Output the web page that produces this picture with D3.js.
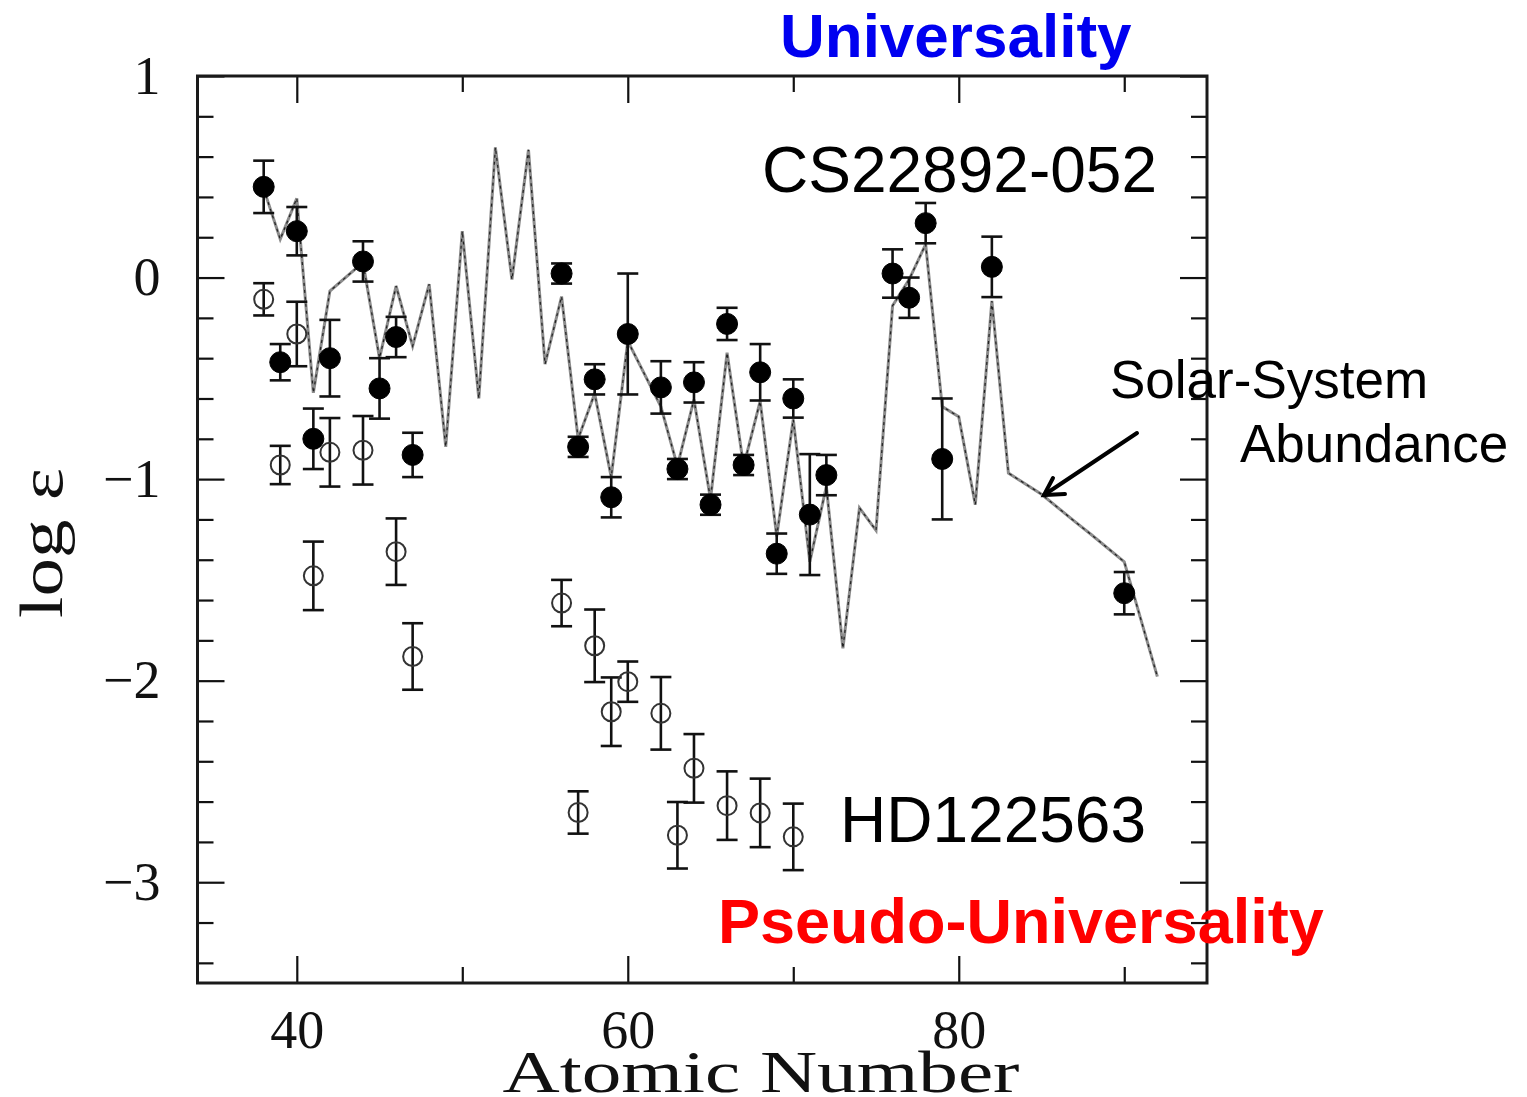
<!DOCTYPE html>
<html>
<head>
<meta charset="utf-8">
<script src="https://cdn.jsdelivr.net/npm/d3@7"></script>
<style>
  html, body { margin: 0; padding: 0; background: #ffffff; }
  svg { display: block; }
</style>
</head>
<body>
<svg id="chart" width="1527" height="1097"></svg>
<script>
// ---------- data ----------
// CS22892-052 (filled circles)
const csZ   = [38, 39, 40, 41, 42, 44, 45, 46, 47, 56, 57, 58, 59, 60, 62, 63, 64, 65, 66, 67, 68, 69, 70, 71, 72, 76, 77, 78, 79, 82, 90];
const csVal = [0.45, -0.42, 0.23, -0.80, -0.40, 0.08, -0.55, -0.295, -0.88, 0.02, -0.84, -0.505, -1.09, -0.28, -0.545, -0.95, -0.52, -1.127, -0.23, -0.93, -0.47, -1.37, -0.60, -1.176, -0.98, 0.02, -0.10, 0.27, -0.90, 0.053, -1.566];
const csErr = [0.13, 0.09, 0.12, 0.15, 0.19, 0.10, 0.15, 0.10, 0.11, 0.05, 0.05, 0.075, 0.10, 0.30, 0.13, 0.05, 0.10, 0.05, 0.08, 0.05, 0.14, 0.10, 0.095, 0.30, 0.10, 0.12, 0.10, 0.10, 0.30, 0.15, 0.105];

// HD122563 (open circles)
const hdZ   = [38, 39, 40, 41, 42, 44, 46, 47, 56, 57, 58, 59, 60, 62, 63, 64, 66, 68, 70];
const hdVal = [-0.108, -0.93, -0.28, -1.48, -0.867, -0.857, -1.36, -1.88, -1.615, -2.654, -1.827, -2.154, -2.005, -2.162, -2.767, -2.435, -2.62, -2.656, -2.775];
const hdErr = [0.08, 0.095, 0.16, 0.17, 0.17, 0.17, 0.165, 0.165, 0.115, 0.105, 0.18, 0.17, 0.10, 0.18, 0.165, 0.17, 0.17, 0.17, 0.165];

// Solar-system (scaled) abundance curve
const solarZ   = [38, 39, 40, 41, 42, 44, 45, 46, 47, 48, 49, 50, 51, 52, 53, 54, 55, 56, 57, 58, 59, 60, 62, 63, 64, 65, 66, 67, 68, 69, 70, 71, 72, 73, 74, 75, 76, 77, 78, 79, 80, 81, 82, 83, 85, 87, 88, 90, 92];
const solarVal = [0.44, 0.19, 0.393, -0.572, -0.067, 0.075, -0.40, -0.042, -0.34, -0.033, -0.84, 0.23, -0.60, 0.646, -0.01, 0.634, -0.43, -0.094, -0.80, -0.575, -0.99, -0.315, -0.64, -0.936, -0.605, -1.10, -0.373, -0.936, -0.613, -1.284, -0.704, -1.41, -1.036, -1.84, -1.143, -1.254, -0.14, -0.01, 0.165, -0.64, -0.69, -1.127, -0.116, -0.97, -1.075, -1.21, -1.275, -1.41, -1.98];

// axis ticks
const xMajor = [40, 60, 80];
const xMinor = [50, 70, 90];
const yMajor = [1, 0, -1, -2, -3];
const yMinor = [0.8, 0.6, 0.4, 0.2, -0.2, -0.4, -0.6, -0.8, -1.2, -1.4, -1.6, -1.8, -2.2, -2.4, -2.6, -2.8, -3.2, -3.4];
const xDomain = [34, 95];
const yDomain = [-3.5, 1];

// ---------- layout ----------
const L = 197.5, R = 1207, T = 76, B = 983;
const svg = d3.select("#chart");
const x = d3.scaleLinear().domain(xDomain).range([L, R]);
const y = d3.scaleLinear().domain(yDomain).range([B, T]);

const serif = "'Liberation Serif', 'DejaVu Serif', serif";
const sans = "'Liberation Sans', Arial, sans-serif";

// ---------- axes (inward ticks on all four sides) ----------
function styleAxis(g) {
  g.select(".domain").remove();
  g.selectAll(".tick line").attr("stroke", "#111").attr("stroke-width", 2.2);
}
const fmtY = d => (d < 0 ? "\u2212" + Math.abs(d) : String(d));

svg.append("g").attr("transform", `translate(0,${B})`)
  .call(d3.axisBottom(x).tickValues(xMajor).tickSize(-27).tickPadding(27).tickFormat(d3.format("d")))
  .call(styleAxis)
  .call(g => g.selectAll("text").attr("font-family", serif).attr("font-size", 54).attr("fill", "#111"));
svg.append("g").attr("transform", `translate(0,${B})`)
  .call(d3.axisBottom(x).tickValues(xMinor).tickSize(-16).tickFormat(""))
  .call(styleAxis);
svg.append("g").attr("transform", `translate(0,${T})`)
  .call(d3.axisTop(x).tickValues(xMajor).tickSize(-27).tickFormat(""))
  .call(styleAxis);
svg.append("g").attr("transform", `translate(0,${T})`)
  .call(d3.axisTop(x).tickValues(xMinor).tickSize(-16).tickFormat(""))
  .call(styleAxis);

svg.append("g").attr("transform", `translate(${L},0)`)
  .call(d3.axisLeft(y).tickValues(yMajor).tickSize(-27).tickPadding(37).tickFormat(fmtY))
  .call(styleAxis)
  .call(g => g.selectAll("text").attr("font-family", serif).attr("font-size", 54).attr("fill", "#111"));
svg.append("g").attr("transform", `translate(${L},0)`)
  .call(d3.axisLeft(y).tickValues(yMinor).tickSize(-16).tickFormat(""))
  .call(styleAxis);
svg.append("g").attr("transform", `translate(${R},0)`)
  .call(d3.axisRight(y).tickValues(yMajor).tickSize(-27).tickFormat(""))
  .call(styleAxis);
svg.append("g").attr("transform", `translate(${R},0)`)
  .call(d3.axisRight(y).tickValues(yMinor).tickSize(-16).tickFormat(""))
  .call(styleAxis);

// frame
svg.append("rect")
  .attr("x", L).attr("y", T).attr("width", R - L).attr("height", B - T)
  .attr("fill", "none").attr("stroke", "#1a1a1a").attr("stroke-width", 3);

// ---------- solar-system curve ----------
const solar = solarZ.map((z, i) => ({ z, v: solarVal[i] }));
const line = d3.line().x(d => x(d.z)).y(d => y(d.v));
svg.append("path").datum(solar)
  .attr("d", line)
  .attr("fill", "none")
  .attr("stroke", "#8c8c8c")
  .attr("stroke-width", 3)
  .attr("stroke-linejoin", "miter");
svg.append("path").datum(solar)
  .attr("d", line)
  .attr("fill", "none")
  .attr("stroke", "#222")
  .attr("stroke-width", 1.2)
  .attr("stroke-dasharray", "3,4");

// ---------- error bars + markers ----------
function drawSeries(Z, V, E, filled) {
  const data = Z.map((z, i) => ({ z, v: V[i], e: E[i] }));
  const g = svg.append("g");
  const cap = 10.5;
  const eb = g.selectAll("g.eb").data(data).join("g").attr("class", "eb")
    .attr("stroke", "#111").attr("stroke-width", 2.6);
  eb.append("line")
    .attr("x1", d => x(d.z)).attr("x2", d => x(d.z))
    .attr("y1", d => y(d.v + d.e)).attr("y2", d => y(d.v - d.e));
  eb.append("line")
    .attr("x1", d => x(d.z) - cap).attr("x2", d => x(d.z) + cap)
    .attr("y1", d => y(d.v + d.e)).attr("y2", d => y(d.v + d.e));
  eb.append("line")
    .attr("x1", d => x(d.z) - cap).attr("x2", d => x(d.z) + cap)
    .attr("y1", d => y(d.v - d.e)).attr("y2", d => y(d.v - d.e));
  g.selectAll("circle").data(data).join("circle")
    .attr("cx", d => x(d.z)).attr("cy", d => y(d.v))
    .attr("r", filled ? 10.5 : 9.5)
    .attr("fill", filled ? "#000" : "none")
    .attr("stroke", filled ? "#000" : "#333")
    .attr("stroke-width", filled ? 1 : 2);
}
drawSeries(hdZ, hdVal, hdErr, false);
drawSeries(csZ, csVal, csErr, true);

// ---------- axis titles ----------
svg.append("text")
  .attr("x", 761).attr("y", 1092)
  .attr("text-anchor", "middle")
  .attr("font-family", serif).attr("font-size", 60).attr("fill", "#111")
  .attr("textLength", 517).attr("lengthAdjust", "spacingAndGlyphs")
  .text("Atomic Number");
svg.append("text")
  .attr("transform", "translate(62,543) rotate(-90)")
  .attr("text-anchor", "middle")
  .attr("font-family", serif).attr("font-size", 62).attr("fill", "#111")
  .attr("textLength", 150).attr("lengthAdjust", "spacingAndGlyphs")
  .text("log \u03b5");

// ---------- annotations ----------
svg.append("text").attr("x", 780).attr("y", 57)
  .attr("font-family", sans).attr("font-weight", "bold").attr("font-size", 62)
  .attr("fill", "#0000f0").text("Universality");
svg.append("text").attr("x", 762).attr("y", 192)
  .attr("font-family", sans).attr("font-size", 64).attr("fill", "#000").text("CS22892-052");
svg.append("text").attr("x", 1110).attr("y", 398)
  .attr("font-family", sans).attr("font-size", 53).attr("fill", "#000").text("Solar-System");
svg.append("text").attr("x", 1240).attr("y", 462)
  .attr("font-family", sans).attr("font-size", 53).attr("fill", "#000").text("Abundance");
svg.append("text").attr("x", 840).attr("y", 842)
  .attr("font-family", sans).attr("font-size", 64).attr("fill", "#000").text("HD122563");
svg.append("text").attr("x", 718).attr("y", 943)
  .attr("font-family", sans).attr("font-weight", "bold").attr("font-size", 63)
  .attr("fill", "#ff0000").text("Pseudo-Universality");

// arrow
const arrow = svg.append("g").attr("stroke", "#000").attr("stroke-width", 4).attr("fill", "none")
  .attr("stroke-linecap", "round");
arrow.append("line").attr("x1", 1137).attr("y1", 433).attr("x2", 1044).attr("y2", 495);
arrow.append("polyline").attr("points", "1053,478 1044,495 1065,494");
</script>
</body>
</html>
